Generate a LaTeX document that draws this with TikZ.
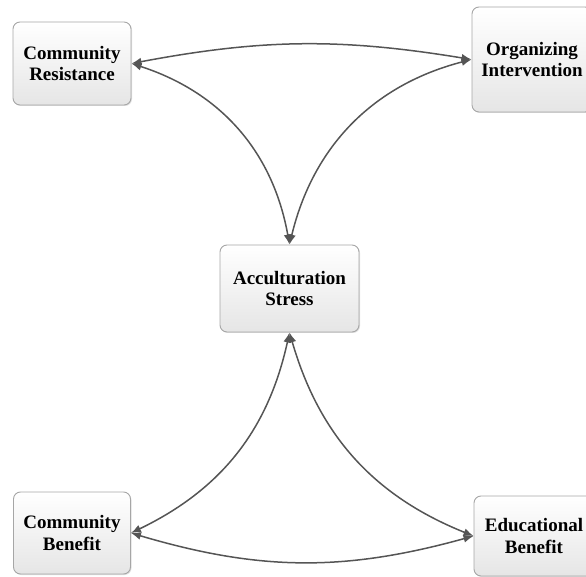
\documentclass[tikz,border=0pt]{standalone}
\usepackage{fontspec}
\setmainfont{Liberation Serif}
\usetikzlibrary{arrows.meta,shadows}
\definecolor{linkgray}{HTML}{555555}
\definecolor{boxline}{HTML}{A6A6A6}
\begin{document}
\begin{tikzpicture}[x=1pt, y=1pt,
        factor/.style={draw=boxline, line width=0.9pt, rounded corners=7pt,
            top color=white, bottom color=black!10, align=center, inner sep=0pt,
            drop shadow={shadow xshift=1pt, shadow yshift=-1pt, fill=black!25},
            font=\fontsize{19}{21.5}\selectfont\bfseries},
        link/.style={draw=linkgray, line width=1.5pt,
            {Latex[length=10pt,width=8pt]}-{Latex[length=10pt,width=8pt]}}]
    \useasboundingbox (0, 0) rectangle (586, 576);

    \node[factor, minimum width=118, minimum height=83] (resist) at (72, 512.5) {Community\\Resistance};
    \node[factor, minimum width=120, minimum height=105] (organize) at (532, 516.5) {Organizing\\Intervention};
    \node[factor, minimum width=139, minimum height=87] (stress) at (289.5, 287.5) {Acculturation\\Stress};
    \node[factor, minimum width=117, minimum height=82] (combenefit) at (72, 43) {Community\\Benefit};
    \node[factor, minimum width=120, minimum height=80] (edubenefit) at (534, 40) {Educational\\Benefit};

    \draw[link] (resist.east) to[bend left=10] (organize.west);
    \draw[link] (resist.east) to[bend left=31] (stress.north);
    \draw[link] (organize.west) to[bend right=31] (stress.north);
    \draw[link] (stress.south) to[bend left=26] (combenefit.east);
    \draw[link] (stress.south) to[bend right=26] (edubenefit.west);
    \draw[link] (combenefit.east) to[bend right=16] (edubenefit.west);
\end{tikzpicture}
\end{document}
